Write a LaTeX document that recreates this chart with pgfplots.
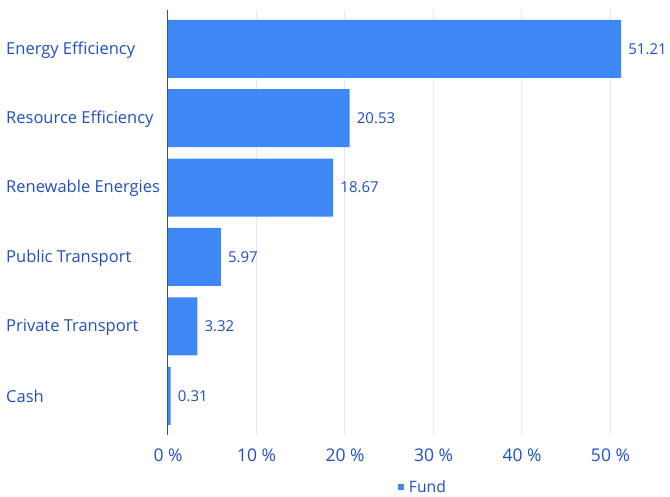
\documentclass[border=0pt]{standalone}
\usepackage{pgfplots}
\pgfplotsset{compat=1.18}
\usepackage{fontspec}
\setmainfont{Open Sans}
\definecolor{barblue}{HTML}{3E88F5}
\definecolor{txtblue}{HTML}{1F4FC2}
\definecolor{gridblue}{HTML}{DDE8FA}
\begin{document}
\begin{tikzpicture}[x=1pt,y=1pt]
\useasboundingbox (0,0) rectangle (670,497);
\begin{axis}[
  at={(168pt,62pt)}, anchor=south west,
  scale only axis, width=500pt, height=425.4pt,
  xbar, bar width=58pt,
  xmin=0, xmax=56.5,
  ymin=-0.565, ymax=5.565,
  ytick={0,1,2,3,4,5},
  yticklabels={Cash,Private Transport,Public Transport,Renewable Energies,Resource Efficiency,Energy Efficiency},
  xtick={0,10,20,30,40,50},
  xticklabels={0 \%,10 \%,20 \%,30 \%,40 \%,50 \%},
  axis x line=bottom,
  axis y line=left,
  axis line style={txtblue, line width=1pt, -},
  x axis line style={draw=none},
  every outer y axis line/.append style={txtblue, line width=1pt, -},
  major tick length=0pt,
  xmajorgrids, grid style={gridblue, line width=1pt},
  ymajorgrids=false,
  ticklabel style={text=txtblue},
  yticklabel style={anchor=west, xshift=-162pt, yshift=-1pt, inner sep=0pt, font=\fontsize{16.5}{18}\selectfont},
  xticklabel style={font=\fontsize{17.5}{19}\selectfont, yshift=-10pt},
  nodes near coords,
  every node near coord/.append style={anchor=west, inner sep=0pt, xshift=7pt, text=txtblue, font=\fontsize{15}{17}\selectfont, /pgf/number format/.cd, fixed, fixed zerofill, precision=2, assume math mode=true},
  legend style={at={(0.51,-0.122)}, anchor=center, draw=none, fill=none, text=txtblue, font=\fontsize{15.7}{17}\selectfont, inner sep=0pt},
  legend image code/.code={\fill[barblue] (0pt,-3pt) rectangle (6pt,3pt); \path (9pt,0pt);},
  clip=false,
]
\addplot[fill=barblue, draw=none] coordinates {(0.31,0) (3.32,1) (5.97,2) (18.67,3) (20.53,4) (51.21,5)};
\addlegendentry{Fund}
\end{axis}
\end{tikzpicture}
\end{document}
